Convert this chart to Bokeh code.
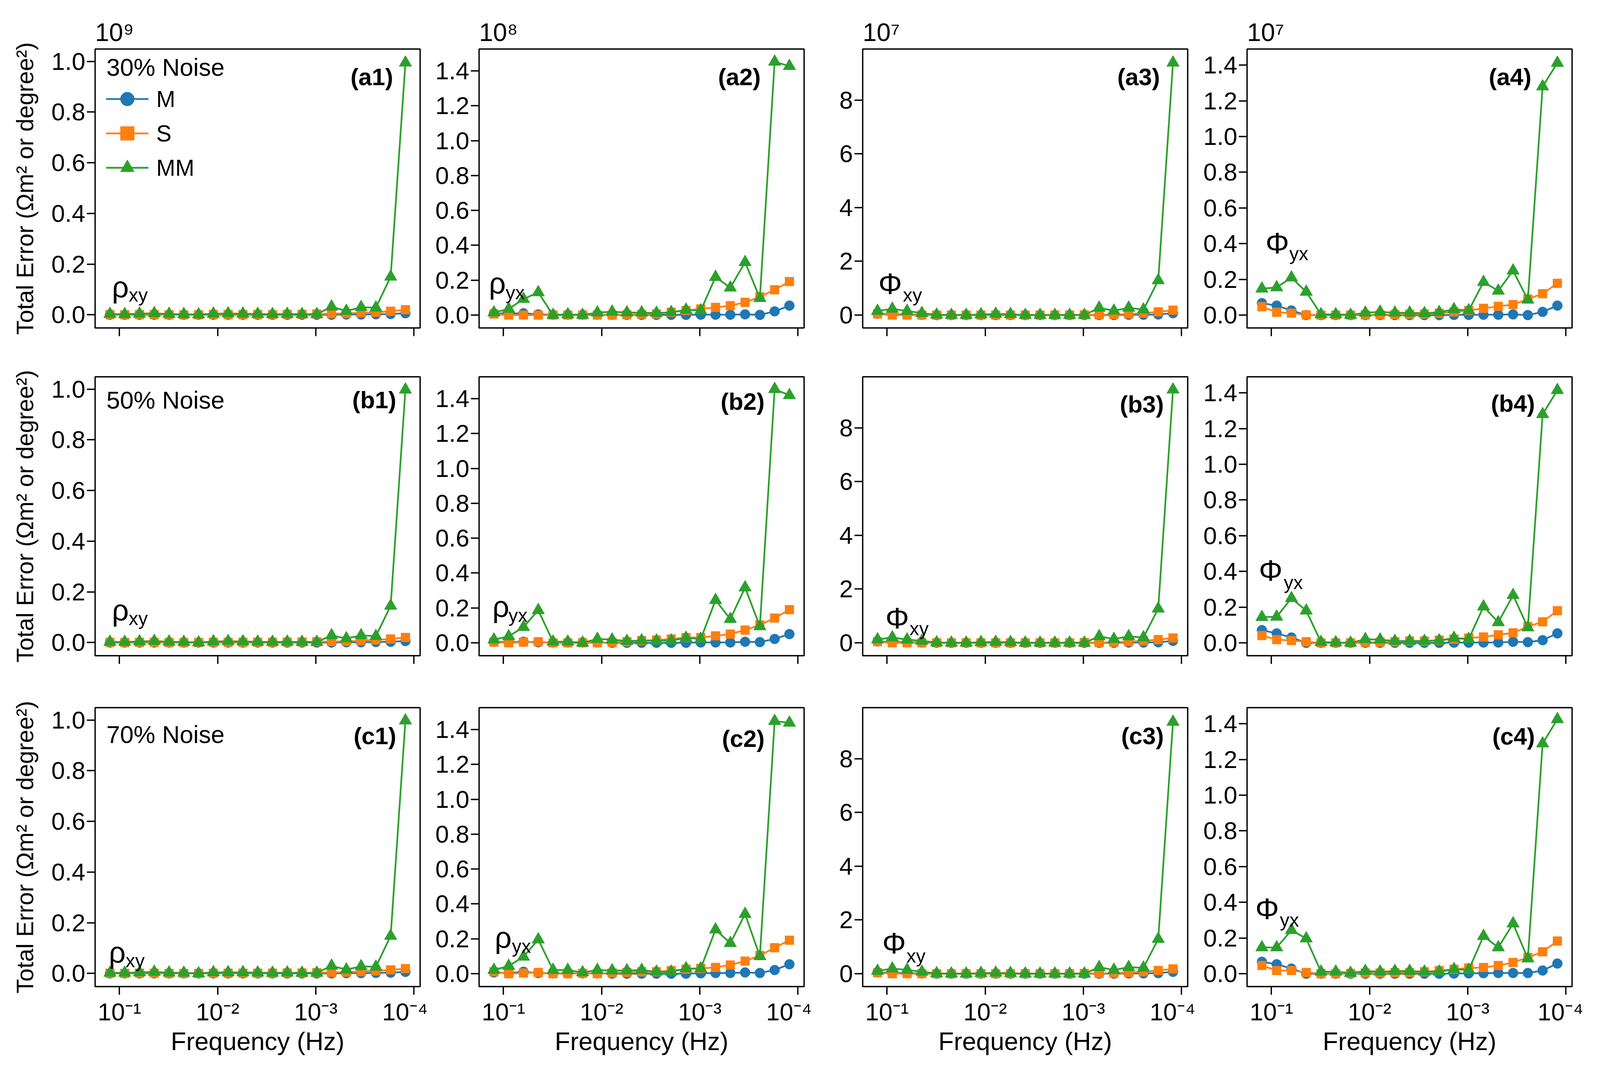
from bokeh.plotting import figure
from bokeh.models import (Range1d, FixedTicker, PrintfTickFormatter, CustomJSTickFormatter,
                          Label, Legend, LegendItem)
from bokeh.core.properties import value
from bokeh.layouts import column, row
from bokeh.embed import file_html
from bokeh.resources import INLINE

# ---------------- data ----------------
freq_hz = [0.125, 0.08839, 0.0625, 0.04419, 0.03125, 0.02210, 0.015625, 0.01105,
           0.0078125, 0.005524, 0.003906, 0.002762, 0.001953, 0.001381, 0.0009766,
           0.0006905, 0.0004883, 0.0003453, 0.0002441, 0.0001726, 0.0001221]

x_tick_values = [1e-1, 1e-2, 1e-3, 1e-4]
x_tick_labels = ["10\u207b\u00b9", "10\u207b\u00b2", "10\u207b\u00b3", "10\u207b\u2074"]

col_multiplier = ["10\u2079", "10\u2078", "10\u2077", "10\u2077"]
row_noise = ["30% Noise", "50% Noise", "70% Noise"]
series_names = ["M", "S", "MM"]

y_ticks_c1 = [0.0, 0.2, 0.4, 0.6, 0.8, 1.0]
y_ticks_c2 = [0.0, 0.2, 0.4, 0.6, 0.8, 1.0, 1.2, 1.4]
y_ticks_c3 = [0, 2, 4, 6, 8]
y_ticks_c4 = [0.0, 0.2, 0.4, 0.6, 0.8, 1.0, 1.2, 1.4]

# rho_xy (x 1e9)
a1_M = [0.000, 0.000, 0.000, 0.000, 0.000, 0.000, 0.000, 0.000, 0.000, 0.000, 0.000, 0.000, 0.000, 0.000, 0.000, 0.000, 0.001, 0.001, 0.002, 0.003, 0.006]
a1_S = [0.001, 0.000, 0.001, 0.001, 0.000, 0.000, 0.000, 0.001, 0.001, 0.001, 0.001, 0.001, 0.002, 0.002, 0.003, 0.004, 0.005, 0.008, 0.010, 0.014, 0.020]
a1_MM = [0.003, 0.002, 0.004, 0.006, 0.003, 0.002, 0.001, 0.004, 0.005, 0.004, 0.003, 0.002, 0.003, 0.002, 0.002, 0.032, 0.015, 0.030, 0.028, 0.150, 0.995]
b1_M = [0.000, 0.000, 0.000, 0.000, 0.000, 0.000, 0.000, 0.000, 0.000, 0.000, 0.000, 0.000, 0.000, 0.000, 0.000, 0.000, 0.001, 0.001, 0.002, 0.003, 0.006]
b1_S = [0.001, 0.000, 0.001, 0.001, 0.000, 0.000, 0.000, 0.001, 0.001, 0.001, 0.001, 0.001, 0.002, 0.002, 0.003, 0.004, 0.005, 0.007, 0.010, 0.014, 0.020]
b1_MM = [0.002, 0.002, 0.004, 0.006, 0.003, 0.002, 0.000, 0.004, 0.005, 0.004, 0.003, 0.002, 0.003, 0.002, 0.002, 0.028, 0.016, 0.028, 0.025, 0.145, 0.998]
c1_M = [0.000, 0.000, 0.000, 0.000, 0.000, 0.000, 0.000, 0.000, 0.000, 0.000, 0.000, 0.000, 0.000, 0.000, 0.000, 0.000, 0.001, 0.001, 0.002, 0.003, 0.006]
c1_S = [0.001, 0.000, 0.001, 0.001, 0.000, 0.000, 0.000, 0.001, 0.001, 0.001, 0.001, 0.001, 0.002, 0.002, 0.003, 0.004, 0.005, 0.007, 0.010, 0.014, 0.019]
c1_MM = [0.002, 0.002, 0.004, 0.006, 0.003, 0.002, 0.000, 0.004, 0.004, 0.004, 0.003, 0.002, 0.003, 0.002, 0.002, 0.030, 0.015, 0.028, 0.026, 0.148, 0.998]

# rho_yx (x 1e8)
a2_M = [0.010, 0.008, 0.010, 0.004, 0.002, 0.002, 0.002, 0.002, 0.001, 0.001, 0.001, 0.001, 0.001, 0.001, 0.002, 0.002, 0.002, 0.004, 0.001, 0.021, 0.054]
a2_S = [0.006, 0.000, 0.000, 0.000, 0.000, 0.000, 0.000, 0.000, 0.000, 0.002, 0.004, 0.006, 0.016, 0.026, 0.035, 0.044, 0.054, 0.073, 0.104, 0.145, 0.192]
a2_MM = [0.014, 0.035, 0.092, 0.130, 0.000, 0.003, 0.000, 0.014, 0.019, 0.014, 0.014, 0.012, 0.016, 0.030, 0.026, 0.218, 0.157, 0.303, 0.097, 1.453, 1.428]
b2_M = [0.006, 0.004, 0.006, 0.003, 0.002, 0.002, 0.002, 0.002, 0.000, 0.000, 0.000, 0.000, 0.000, 0.000, 0.002, 0.002, 0.002, 0.006, 0.004, 0.022, 0.050]
b2_S = [0.004, 0.000, 0.004, 0.006, 0.000, 0.000, 0.000, 0.000, 0.002, 0.006, 0.013, 0.016, 0.022, 0.030, 0.030, 0.040, 0.050, 0.073, 0.102, 0.142, 0.190]
b2_MM = [0.018, 0.037, 0.090, 0.187, 0.006, 0.006, 0.000, 0.022, 0.018, 0.010, 0.013, 0.012, 0.013, 0.028, 0.022, 0.245, 0.136, 0.317, 0.094, 1.455, 1.420]
c2_M = [0.007, 0.004, 0.011, 0.004, 0.002, 0.002, 0.002, 0.002, 0.000, 0.000, 0.000, 0.000, 0.000, 0.000, 0.002, 0.004, 0.004, 0.007, 0.004, 0.021, 0.054]
c2_S = [0.011, 0.000, 0.004, 0.007, 0.000, 0.000, 0.002, 0.000, 0.004, 0.007, 0.011, 0.011, 0.018, 0.026, 0.030, 0.036, 0.050, 0.072, 0.104, 0.149, 0.192]
c2_MM = [0.021, 0.044, 0.097, 0.196, 0.021, 0.021, 0.007, 0.021, 0.018, 0.018, 0.021, 0.011, 0.011, 0.030, 0.030, 0.253, 0.175, 0.342, 0.100, 1.449, 1.439]

# phi_xy (x 1e7)
a3_M = [0.05, 0.03, 0.02, 0.01, 0.00, 0.00, 0.00, 0.00, 0.00, 0.00, 0.00, 0.00, 0.00, 0.00, 0.00, 0.00, 0.00, 0.01, 0.01, 0.02, 0.07]
a3_S = [0.04, 0.00, 0.00, 0.00, 0.00, 0.00, 0.00, 0.00, 0.00, 0.00, 0.00, 0.00, 0.00, 0.00, 0.01, 0.01, 0.02, 0.04, 0.07, 0.12, 0.18]
a3_MM = [0.15, 0.23, 0.15, 0.07, 0.01, 0.00, 0.00, 0.02, 0.04, 0.03, 0.00, 0.00, 0.00, 0.00, 0.00, 0.27, 0.16, 0.27, 0.20, 1.29, 9.39]
b3_M = [0.05, 0.03, 0.02, 0.01, 0.00, 0.00, 0.00, 0.00, 0.00, 0.00, 0.00, 0.00, 0.00, 0.00, 0.00, 0.00, 0.00, 0.01, 0.01, 0.02, 0.07]
b3_S = [0.04, 0.00, 0.00, 0.00, 0.00, 0.00, 0.00, 0.00, 0.00, 0.00, 0.00, 0.00, 0.00, 0.00, 0.01, 0.01, 0.02, 0.04, 0.07, 0.12, 0.18]
b3_MM = [0.12, 0.20, 0.12, 0.07, 0.01, 0.00, 0.00, 0.02, 0.03, 0.02, 0.00, 0.00, 0.00, 0.00, 0.00, 0.24, 0.14, 0.24, 0.20, 1.27, 9.42]
c3_M = [0.05, 0.03, 0.02, 0.01, 0.00, 0.00, 0.00, 0.00, 0.00, 0.00, 0.00, 0.00, 0.00, 0.00, 0.00, 0.00, 0.00, 0.01, 0.01, 0.02, 0.07]
c3_S = [0.04, 0.00, 0.00, 0.00, 0.00, 0.00, 0.00, 0.00, 0.00, 0.00, 0.00, 0.00, 0.00, 0.00, 0.01, 0.01, 0.02, 0.04, 0.07, 0.12, 0.18]
c3_MM = [0.10, 0.19, 0.14, 0.07, 0.01, 0.00, 0.00, 0.02, 0.03, 0.02, 0.00, 0.00, 0.00, 0.00, 0.00, 0.24, 0.14, 0.24, 0.22, 1.29, 9.37]

# phi_yx (x 1e7)
a4_M = [0.067, 0.053, 0.026, 0.000, 0.000, 0.000, 0.000, 0.000, 0.000, 0.000, 0.000, 0.000, 0.000, 0.001, 0.001, 0.002, 0.002, 0.004, 0.000, 0.018, 0.053]
a4_S = [0.047, 0.016, 0.011, 0.001, 0.000, 0.000, 0.000, 0.001, 0.002, 0.003, 0.005, 0.006, 0.010, 0.018, 0.026, 0.038, 0.049, 0.059, 0.090, 0.120, 0.178]
a4_MM = [0.148, 0.155, 0.210, 0.130, 0.004, 0.004, 0.001, 0.013, 0.018, 0.013, 0.013, 0.010, 0.016, 0.032, 0.026, 0.185, 0.136, 0.249, 0.086, 1.280, 1.412]
b4_M = [0.071, 0.053, 0.030, 0.000, 0.000, 0.000, 0.000, 0.000, 0.000, 0.000, 0.000, 0.000, 0.000, 0.001, 0.001, 0.002, 0.002, 0.006, 0.004, 0.015, 0.053]
b4_S = [0.041, 0.018, 0.013, 0.006, 0.000, 0.000, 0.000, 0.002, 0.004, 0.006, 0.010, 0.010, 0.015, 0.021, 0.027, 0.033, 0.045, 0.056, 0.091, 0.118, 0.180]
b4_MM = [0.144, 0.146, 0.250, 0.180, 0.004, 0.002, 0.000, 0.020, 0.018, 0.010, 0.010, 0.010, 0.013, 0.027, 0.021, 0.203, 0.115, 0.267, 0.086, 1.280, 1.415]
c4_M = [0.067, 0.053, 0.029, 0.000, 0.000, 0.000, 0.000, 0.000, 0.000, 0.000, 0.000, 0.000, 0.000, 0.001, 0.002, 0.003, 0.004, 0.004, 0.004, 0.018, 0.057]
c4_S = [0.046, 0.018, 0.018, 0.007, 0.000, 0.000, 0.002, 0.004, 0.004, 0.006, 0.007, 0.011, 0.018, 0.025, 0.032, 0.035, 0.046, 0.063, 0.091, 0.123, 0.183]
c4_MM = [0.147, 0.147, 0.244, 0.197, 0.011, 0.011, 0.004, 0.015, 0.011, 0.015, 0.015, 0.011, 0.011, 0.025, 0.021, 0.211, 0.147, 0.281, 0.085, 1.289, 1.425]

panel_series = [
    [(a1_M, a1_S, a1_MM), (a2_M, a2_S, a2_MM), (a3_M, a3_S, a3_MM), (a4_M, a4_S, a4_MM)],
    [(b1_M, b1_S, b1_MM), (b2_M, b2_S, b2_MM), (b3_M, b3_S, b3_MM), (b4_M, b4_S, b4_MM)],
    [(c1_M, c1_S, c1_MM), (c2_M, c2_S, c2_MM), (c3_M, c3_S, c3_MM), (c4_M, c4_S, c4_MM)],
]
panel_ids = [["(a1)", "(a2)", "(a3)", "(a4)"],
             ["(b1)", "(b2)", "(b3)", "(b4)"],
             ["(c1)", "(c2)", "(c3)", "(c4)"]]
col_symbol = ["\u03c1", "\u03c1", "\u03a6", "\u03a6"]
col_subscript = ["xy", "yx", "xy", "yx"]

# ---------------- styling / layout ----------------
S = 4096.0 / 4194.0           # global layout scale


def px(v):
    return int(round(v * S))


def fs(v):
    return f"{v * S:.1f}px"


FONT = "Liberation Sans"
COLORS = ["#1f77b4", "#ff7f0e", "#2ca02c"]
MARKERS = ["circle", "square", "triangle"]
MSIZES = [26, 23, 33]

FW, FH = 852, 731
LEFT = [249, 134, 133, 135]
RIGHT = [20, 20, 20, 30]
TOP = [128, 28, 36]
BOTTOM = [100, 100, 182]

x_start, x_end = 10 ** -0.752, 10 ** -4.063
y_ranges = [(-0.052, 1.049), (-0.074, 1.526), (-0.48, 9.9), (-0.072, 1.49)]
y_ticks = [y_ticks_c1, y_ticks_c2, y_ticks_c3, y_ticks_c4]
y_formats = ["%.1f", "%.1f", "%.0f", "%.1f"]

# positions of in-panel texts (frame pixels)
id_pos = [[(781, 73), (738, 73), (779, 73), (745, 73)],
          [(789, 60), (748, 64), (789, 72), (755, 70)],
          [(789, 74), (748, 81), (789, 74), (755, 75)]]
sym_pos = [[(44, 108, 88, 87), (26, 118, 70, 93), (41, 116, 105, 87), (48, 222, 111, 196)],
           [(44, 120, 88, 98), (35, 129, 77, 107), (59, 98, 123, 72), (31, 223, 96, 192)],
           [(36, 90, 80, 69), (41, 129, 86, 106), (51, 114, 115, 81), (22, 204, 86, 175)]]
noise_dy = [47, 60, 70]

xfmt_code = """
let best = 0; let bd = 1e9;
for (let i = 0; i < vals.length; i++) {
  const d = Math.abs(Math.log10(vals[i]) - Math.log10(tick));
  if (d < bd) { bd = d; best = i; }
}
return labs[best];
"""

rows = []
for r in range(3):
    figs = []
    for c in range(4):
        p = figure(frame_width=px(FW), frame_height=px(FH), x_axis_type="log",
                   x_range=Range1d(x_start, x_end),
                   y_range=Range1d(*y_ranges[c]),
                   output_backend="svg", toolbar_location=None,
                   title=(col_multiplier[c] if r == 0 else None),
                   min_border_left=px(LEFT[c]), min_border_right=px(RIGHT[c]),
                   min_border_top=px(TOP[r]), min_border_bottom=px(BOTTOM[r]))
        p.background_fill_color = "white"
        p.border_fill_color = "white"
        p.outline_line_color = "black"
        p.outline_line_width = 3.5 * S
        p.outline_line_alpha = 1.0
        p.xgrid.visible = False
        p.ygrid.visible = False
        if r == 0:
            p.title.text_font = FONT
            p.title.text_font_size = fs(66)
            p.title.text_font_style = "normal"
            p.title.text_color = "black"
            p.title.align = "left"
            p.title.standoff = px(14)

        for ax in (p.xaxis[0], p.yaxis[0]):
            ax.axis_line_color = None
            ax.major_tick_line_color = "black"
            ax.major_tick_line_width = 3.5 * S
            ax.major_tick_out = px(21)
            ax.major_tick_in = 0
            ax.minor_tick_line_color = None
            ax.major_label_text_font = FONT
            ax.major_label_text_font_size = fs(64)
            ax.major_label_text_color = "black"
            ax.axis_label_text_font = FONT
            ax.axis_label_text_font_style = "normal"
            ax.axis_label_text_color = "black"

        xa = p.xaxis[0]
        xa.ticker = FixedTicker(ticks=x_tick_values)
        xa.formatter = CustomJSTickFormatter(args=dict(labs=x_tick_labels, vals=x_tick_values), code=xfmt_code)
        xa.axis_label_text_font_size = fs(66)
        if r < 2:
            # tick marks only, labels not painted
            xa.major_label_text_font_size = fs(20)
            xa.major_label_text_color = None
            xa.major_label_standoff = 0
        else:
            xa.major_label_standoff = px(8)
            xa.axis_label = "Frequency (Hz)"
            xa.axis_label_standoff = px(2)

        ya = p.yaxis[0]
        ya.ticker = FixedTicker(ticks=y_ticks[c])
        ya.formatter = PrintfTickFormatter(format=y_formats[c])
        ya.major_label_standoff = px(4)
        ya.axis_label_text_font_size = fs(62)
        if c == 0:
            ya.axis_label = "Total Error (\u03a9m\u00b2 or degree\u00b2)"
            ya.axis_label_standoff = px(32)

        items = []
        for k in range(3):
            vals = panel_series[r][c][k]
            lr = p.line(freq_hz, vals, line_color=COLORS[k], line_width=4.5 * S)
            sr = p.scatter(freq_hz, vals, marker=MARKERS[k], size=MSIZES[k] * S,
                           fill_color=COLORS[k], line_color=COLORS[k])
            items.append(LegendItem(label=value(series_names[k]), renderers=[lr, sr]))

        if r == 0 and c == 0:
            gh = 90
            leg = Legend(items=items, location=(px(29), px(FH - 86 - 3 * gh)),
                         glyph_width=px(112), glyph_height=px(gh), spacing=0, padding=0, margin=0,
                         label_standoff=px(20), label_text_font=FONT, label_text_font_size=fs(60),
                         label_text_color="black",
                         background_fill_alpha=0, border_line_color=None)
            p.add_layout(leg)

        if c == 0:
            p.add_layout(Label(x=px(30), y=px(FH - noise_dy[r]), x_units="screen", y_units="screen",
                               text=row_noise[r], text_font=FONT, text_font_size=fs(64),
                               text_baseline="middle", text_align="left", text_color="black"))

        ix, idy = id_pos[r][c]
        p.add_layout(Label(x=px(ix), y=px(FH - idy), x_units="screen", y_units="screen",
                           text=panel_ids[r][c], text_font=FONT, text_font_size=fs(63),
                           text_font_style="bold", text_baseline="middle", text_align="right",
                           text_color="black"))
        sx, sy, bx, by = sym_pos[r][c]
        p.add_layout(Label(x=px(sx), y=px(sy), x_units="screen", y_units="screen",
                           text=col_symbol[c], text_font=FONT, text_font_size=fs(78),
                           text_baseline="alphabetic", text_align="left", text_color="black"))
        p.add_layout(Label(x=px(bx), y=px(by), x_units="screen", y_units="screen",
                           text=col_subscript[c], text_font=FONT, text_font_size=fs(50),
                           text_baseline="alphabetic", text_align="left", text_color="black"))
        figs.append(p)
    rows.append(row(*figs))

layout = column(*rows)
open("out.html", "w").write(file_html(layout, INLINE))
